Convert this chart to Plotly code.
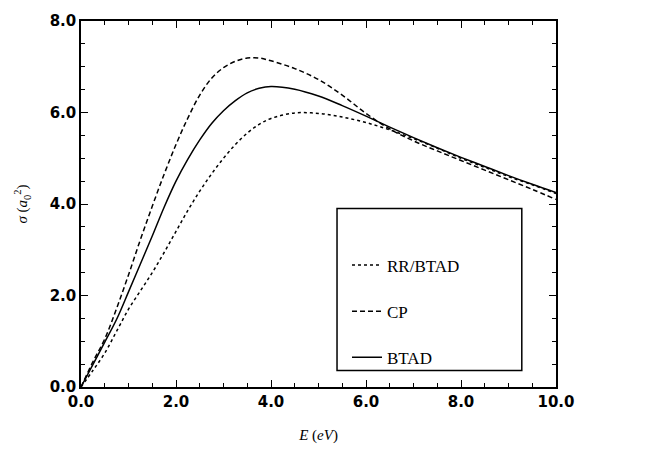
import plotly.graph_objects as go

# Energy grid (eV)
energy = [0, 0.25, 0.5, 0.75, 1.0, 1.25, 1.5, 1.75, 2.0, 2.25, 2.5, 2.75, 3.0,
          3.25, 3.5, 3.75, 4.0, 4.5, 5.0, 5.5, 6.0, 6.5, 7.0, 7.5, 8.0, 8.5,
          9.0, 9.5, 10.0]

# Cross sections (a0^2)
sigma_rr_btad = [0, 0.36, 0.74, 1.22, 1.70, 2.10, 2.50, 2.94, 3.40, 3.86, 4.28,
                 4.66, 5.00, 5.30, 5.55, 5.74, 5.87, 5.99, 5.98, 5.90, 5.78,
                 5.62, 5.43, 5.22, 5.00, 4.80, 4.60, 4.42, 4.23]
sigma_cp = [0, 0.55, 1.05, 1.72, 2.45, 3.22, 3.95, 4.65, 5.30, 5.88, 6.38,
            6.75, 6.98, 7.12, 7.19, 7.19, 7.13, 6.96, 6.72, 6.38, 5.98, 5.64,
            5.38, 5.16, 4.95, 4.74, 4.53, 4.32, 4.10]
sigma_btad = [0, 0.49, 0.98, 1.48, 2.08, 2.69, 3.30, 3.93, 4.50, 4.98, 5.40,
              5.76, 6.04, 6.26, 6.43, 6.53, 6.57, 6.51, 6.36, 6.15, 5.92, 5.68,
              5.45, 5.23, 5.02, 4.82, 4.62, 4.43, 4.25]

series = [
    ("RR/BTAD", sigma_rr_btad, "dot"),
    ("CP", sigma_cp, "5px,3px"),
    ("BTAD", sigma_btad, "solid"),
]

fig = go.Figure()
for i, (name, vals, dash) in enumerate(series):
    fig.add_trace(go.Scatter(
        x=energy, y=vals, mode="lines", name=name, legendgroup=str(i),
        line=dict(color="black", width=1.5, dash=dash, shape="spline"),
    ))

axis_common = dict(
    showline=True, linecolor="black", linewidth=1.5, mirror="ticks",
    ticks="inside", ticklen=7, tickwidth=1, tickcolor="black",
    showgrid=False, zeroline=False, tickformat=".1f",
    tickfont=dict(family="DejaVu Sans", size=15, color="black", weight="bold"),
    minor=dict(ticks="inside", ticklen=4, dtick=0.5, tickcolor="black", showgrid=False),
)

fig.update_xaxes(range=[0, 10], dtick=2, **axis_common,
                 title=dict(text="<i>E</i> (<i>eV</i>)", standoff=20,
                            font=dict(family="Liberation Serif", size=15, color="black")))
fig.update_yaxes(range=[0, 8], dtick=2, **axis_common,
                 title=dict(text="<i>σ</i> (<i>a</i><sub>0</sub><sup>2</sup>)", standoff=18,
                            font=dict(family="Liberation Serif", size=15, color="black")))

# Legend frame
fig.add_shape(type="rect", xref="paper", yref="paper",
              x0=0.539, x1=0.928, y0=0.045, y1=0.488,
              line=dict(color="black", width=1.5))

fig.update_layout(
    width=650, height=453,
    margin=dict(l=81, r=94, t=20, b=56),
    plot_bgcolor="white", paper_bgcolor="white",
    legend=dict(x=0.56, y=0.381, xanchor="left", yanchor="top",
                bgcolor="rgba(0,0,0,0)", borderwidth=0,
                tracegroupgap=21, itemwidth=30,
                font=dict(family="Liberation Serif", size=17, color="black")),
)

fig.write_html("out.html")
